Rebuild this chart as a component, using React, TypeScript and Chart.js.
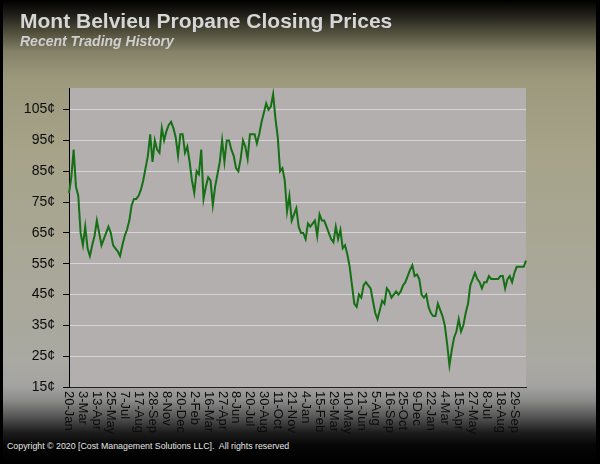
import React, { useEffect, useRef } from "react";
import { Chart, registerables } from "chart.js";

Chart.register(...registerables);

const TITLE = "Mont Belvieu Propane Closing Prices";
const SUBTITLE = "Recent Trading History";
const COPYRIGHT = "Copyright \u00A9 2020 [Cost Management Solutions LLC].  All rights reserved";

// one label every 6 weekly points
const tickLabels = [
  "20-Jan", "3-Mar", "13-Apr", "25-May", "7-Jul", "17-Aug", "28-Sep", "8-Nov", "20-Dec",
  "2-Feb", "16-Mar", "27-Apr", "8-Jun", "20-Jul", "30-Aug", "11-Oct", "21-Nov",
  "4-Jan", "15-Feb", "29-Mar", "10-May", "21-Jun", "5-Aug", "16-Sep", "25-Oct", "9-Dec",
  "22-Jan", "4-Mar", "15-Apr", "27-May", "8-Jul", "18-Aug", "29-Sep",
];
const TICK_EVERY = 6;

// weekly closing prices, cents per gallon
const prices = [
  78, 83, 92, 80, 77, 65, 61, 67, 60, 57.5, 61, 64, 69, 65, 61, 63, 65, 67, 65, 61,
  60, 59, 57.5, 61, 64, 66, 69, 74, 76, 76, 77, 79, 82, 86, 90, 97, 88, 95, 92, 91,
  99, 95, 98, 100, 101, 99, 96, 90, 97, 97, 91, 93, 88, 82, 78, 85, 84, 92, 76, 80,
  83, 82, 74, 80, 84, 88, 95, 88, 95, 95, 92, 90, 86, 85, 89, 95, 93, 89, 97, 97,
  97, 94, 97, 101, 104, 107, 105, 106, 110, 102, 96, 85, 86, 82, 72, 77, 69, 71, 73, 67,
  65, 65, 63, 68, 67, 68, 69, 64, 71, 69, 69, 67, 65, 63, 62, 67, 63, 66, 60, 61,
  58, 54, 48, 42, 41, 45, 44, 48, 49, 48, 47, 43, 39, 37, 40, 43, 42, 47, 46, 44,
  45, 46, 45, 46, 48, 49, 51, 53, 54.5, 51, 51.5, 50, 45, 44, 45, 41, 39, 38, 38, 42,
  40, 38, 35, 29, 22, 27, 31, 33, 37, 33, 35, 39, 42, 48, 50, 52, 50, 49, 47, 49,
  49, 51, 50, 50, 50, 50, 51, 51, 47, 50, 51, 49, 52, 54, 54, 54, 54, 56,
];

const yTicks = [15, 25, 35, 45, 55, 65, 75, 85, 95, 105];
const Y_MIN = 15;
const Y_MAX = 112;

const FONT = '"Liberation Sans", Arial, Helvetica, sans-serif';

export default function App() {
  const ref = useRef<HTMLCanvasElement>(null);

  useEffect(() => {
    const labels = prices.map((_, i) =>
      i % TICK_EVERY === 0 ? tickLabels[i / TICK_EVERY] ?? "" : ""
    );

    const plotBg = {
      id: "plotBg",
      beforeDraw(c: any) {
        const { ctx, chartArea: a } = c;
        ctx.save();
        ctx.fillStyle = "#b3afaf";
        ctx.fillRect(a.left, a.top, a.right - a.left, a.bottom - a.top);
        ctx.restore();
      },
    };

    const xLabels = {
      id: "xLabels",
      afterDraw(c: any) {
        const ctx = c.ctx;
        const xs = c.scales.x;
        ctx.save();
        ctx.font = `13px ${FONT}`;
        ctx.fillStyle = "#0c0c0c";
        ctx.textAlign = "left";
        ctx.textBaseline = "middle";
        labels.forEach((l, i) => {
          if (!l) return;
          const x = xs.getPixelForValue(i);
          ctx.save();
          ctx.translate(x, xs.top + 4);
          ctx.rotate(Math.PI / 2);
          ctx.fillText(l, 0, 0);
          ctx.restore();
        });
        ctx.restore();
      },
    };

    const chart = new Chart(ref.current!, {
      type: "line",
      data: {
        labels,
        datasets: [
          {
            data: prices,
            borderColor: "#157015",
            borderWidth: 2,
            pointRadius: 0,
            tension: 0,
            fill: false,
          },
        ],
      },
      options: {
        animation: false,
        responsive: false,
        maintainAspectRatio: false,
        layout: { padding: { left: 0, top: 88, right: 74, bottom: 0 } },
        plugins: {
          legend: { display: false },
          tooltip: { enabled: false },
          title: { display: false },
        },
        scales: {
          x: {
            type: "category",
            offset: false,
            grid: { display: false },
            border: { display: true, color: "#222", width: 1 },
            ticks: { display: false },
            afterFit(s: any) {
              s.height = 53;
            },
          },
          y: {
            min: Y_MIN,
            max: Y_MAX,
            afterBuildTicks(s: any) {
              s.ticks = yTicks.map((v) => ({ value: v }));
            },
            ticks: {
              callback: (v: any) => v + "\u00A2",
              color: "#0c0c0c",
              padding: 8,
              font: { size: 14, family: FONT },
            },
            grid: {
              color: (ctx: any) =>
                ctx.tick && ctx.tick.value === Y_MIN ? "rgba(0,0,0,0)" : "#d6d4d4",
              tickColor: "#000",
              tickLength: 6,
              lineWidth: 1,
            },
            border: { color: "#000", width: 1 },
            afterFit(s: any) {
              s.width = 69;
            },
          },
        },
      } as any,
      plugins: [plotBg, xLabels],
    });
    return () => chart.destroy();
  }, []);

  return (
    <div
      style={{
        position: "fixed",
        left: 0,
        top: 0,
        width: 600,
        height: 464,
        overflow: "hidden",
        fontFamily: FONT,
        background:
          "linear-gradient(to bottom, #000 0px, #1e1d17 14px, #55533f 34px, #858269 52px, #9c987c 78px, #a6a389 150px, #a9a795 250px, #aaa9a2 360px, #a3a3a1 386px, #8c8c8b 400px, #555 417px, #1e1e1e 432px, #060606 445px, #000 464px)",
      }}
    >
      <canvas
        ref={ref}
        width={600}
        height={440}
        style={{ position: "absolute", left: 0, top: 0 }}
      />
      <div
        style={{
          position: "absolute",
          left: 20,
          top: 9.5,
          fontSize: 21,
          lineHeight: "21px",
          fontWeight: "bold",
          color: "#d6d6d6",
          whiteSpace: "pre",
        }}
      >
        {TITLE}
      </div>
      <div
        style={{
          position: "absolute",
          left: 20,
          top: 34,
          fontSize: 14,
          lineHeight: "14px",
          fontWeight: "bold",
          fontStyle: "italic",
          color: "#cfcfcf",
          whiteSpace: "pre",
        }}
      >
        {SUBTITLE}
      </div>
      <div
        style={{
          position: "absolute",
          left: 7,
          top: 440.6,
          fontSize: 8.8,
          lineHeight: "10px",
          color: "#e6e6e6",
          whiteSpace: "pre",
        }}
      >
        {COPYRIGHT}
      </div>
      <div style={{ position: "absolute", left: 0, top: 0, width: 3, height: 464, background: "#000" }} />
      <div style={{ position: "absolute", right: 0, top: 0, width: 4, height: 464, background: "#000" }} />
    </div>
  );
}
